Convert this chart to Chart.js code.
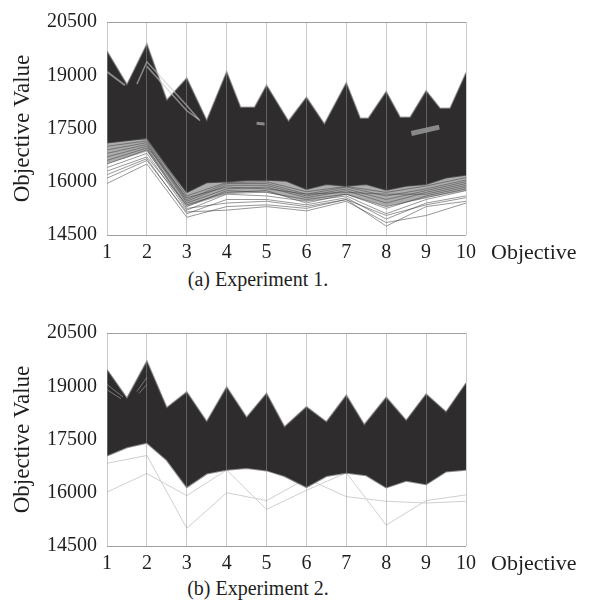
<!DOCTYPE html>
<html>
<head>
<meta charset="utf-8">
<script src="https://cdn.jsdelivr.net/npm/chart.js@4.4.1/dist/chart.umd.min.js"></script>
<style>
  body { margin: 0; background: #fff; width: 601px; height: 610px; position: relative; overflow: hidden;
         font-family: 'Liberation Serif', 'Times New Roman', serif; color: #1e1e1e; }
  .panel { position: absolute; left: 0; width: 601px; height: 262px; }
  .cap { position: absolute; left: 0; width: 516px; text-align: center; font-size: 20px; line-height: 20px; white-space: nowrap; }
  .axis-name { position: absolute; left: 491px; font-size: 22px; line-height: 22px; }
</style>
</head>
<body>
<div class="panel" style="top:0"><canvas id="exp1" width="601" height="262"></canvas></div>
<div class="axis-name" style="top:241px">Objective</div>
<div class="cap" style="top:269px">(a) Experiment 1.</div>

<div class="panel" style="top:311px"><canvas id="exp2" width="601" height="262"></canvas></div>
<div class="axis-name" style="top:552px">Objective</div>
<div class="cap" style="top:578px">(b) Experiment 2.</div>

<script>
// Parallel coordinates of objective values, two experiments
const objectives = [1, 2, 3, 4, 5, 6, 7, 8, 9, 10];
const yTicks = [14500, 16000, 17500, 19000, 20500];

// Experiment 1: outline of the dense band (upper edge and solid lower edge)
const e1TopX = [1, 1.5, 2, 2.5, 3, 3.5, 4, 4.35, 4.7, 5, 5.55, 6, 6.45, 7, 7.35, 7.55, 8, 8.35, 8.6, 9, 9.35, 9.6, 10];
const e1TopY = [19680, 18740, 19880, 18300, 18920, 17730, 19100, 18100, 18100, 18720, 17710, 18380, 17630, 18790, 17790, 17790, 18540, 17820, 17820, 18560, 18070, 18070, 19070];
const e1BaseX = [1, 1.5, 2, 2.5, 3, 3.5, 4, 4.5, 5, 5.5, 6, 6.5, 7, 7.5, 8, 8.5, 9, 9.5, 10];
const e1BaseY = [17100, 17160, 17230, 16450, 15700, 15980, 16000, 16040, 16050, 16020, 15790, 15930, 15880, 15930, 15770, 15880, 15930, 16110, 16190];
// lower edge of the grey haze under the band
const e1Haze = [16500, 16850, 15300, 15650, 15700, 15450, 15650, 15300, 15550, 15750];

// Experiment 1: sparser solutions under the band (one value per objective)
const e1Spread = [
  [17150, 17200, 15600, 15980, 16000, 15720, 15870, 15700, 15880, 16120],
  [17000, 17150, 15500, 15950, 15950, 15650, 15850, 15600, 15800, 16050],
  [16900, 17100, 15450, 15900, 15900, 15600, 15800, 15500, 15750, 16000],
  [16800, 17050, 15400, 15800, 15850, 15550, 15750, 15400, 15700, 15950],
  [16700, 17000, 15550, 15850, 15800, 15650, 15700, 15650, 15650, 15900],
  [16600, 16950, 15300, 15750, 15700, 15500, 15650, 15250, 15600, 15850],
  [16500, 16900, 15250, 15400, 15450, 15300, 15500, 15050, 15350, 15550],
  [16400, 16800, 15200, 15650, 15600, 15450, 15600, 15100, 15500, 15750],
  [16300, 16700, 15350, 15700, 15750, 15400, 15650, 15300, 15550, 15800],
  [16200, 16650, 15100, 15500, 15500, 15350, 15550, 14950, 15400, 15600],
  [16100, 16600, 15150, 15200, 15300, 15180, 15450, 14850, 15050, 15400],
  [15950, 16500, 15000, 15300, 15350, 15250, 15500, 14750, 15300, 15450]
];

// Experiment 1: pale streaks inside the band
const e1StreakX = [[1, 1.45], [1.75, 2, 3, 3.33], [2, 3, 3.3], [4.75, 4.95], [8.63, 9.33]];
const e1StreakY = [[19100, 18720], [18750, 19380, 18150, 17720], [19250, 18000, 17760], [17650, 17630], [17360, 17540]];
const e1StreakW = [2, 1.5, 1.5, 3, 5];

// Experiment 2: outline of the dense band
const e2TopX = [1, 1.5, 2, 2.5, 3, 3.5, 4, 4.5, 5, 5.45, 6, 6.5, 7, 7.45, 8, 8.5, 9, 9.5, 10];
const e2TopY = [19470, 18670, 19710, 18400, 18840, 18010, 18980, 18130, 18800, 17860, 18420, 18000, 18750, 17920, 18690, 18040, 18780, 18280, 19090];
const e2BaseX = [1, 1.5, 2, 2.5, 3, 3.5, 4, 4.5, 5, 5.45, 6, 6.5, 7, 7.5, 8, 8.5, 9, 9.5, 10];
const e2BaseY = [17050, 17280, 17410, 16920, 16160, 16540, 16650, 16700, 16630, 16470, 16160, 16470, 16560, 16490, 16150, 16340, 16240, 16600, 16650];

// Experiment 2: the few solutions that fall well below the band
const e2Outliers = [
  [16830, 17050, 15000, 16000, 15780, 16400, 15890, 15760, 15710, 15760],
  [16020, 16540, 15920, 16640, 15530, 16070, 16560, 15090, 15780, 15940]
];

// Experiment 2: pale streaks near the peaks
const e2StreakX = [[1, 1.4], [1, 1.35], [1.75, 2], [1.8, 2]];
const e2StreakY = [[19050, 18700], [18900, 18650], [18850, 19250], [18800, 19050]];

const FONT = "'Liberation Serif', 'Times New Roman', serif";
const INK = '#1e1e1e';
const BAND = '#2e2c2d';

const pts = (xs, ys) => xs.map((x, i) => ({ x, y: ys[i] }));
const onAxes = vals => objectives.map((o, i) => ({ x: o, y: vals[i] }));
const line = (data, color, width, extra) => Object.assign(
  { data, borderColor: color, borderWidth: width, pointRadius: 0, fill: false, tension: 0 }, extra || {});

function buildChart(id, sets) {
  return new Chart(document.getElementById(id), {
    type: 'line',
    data: { datasets: sets },
    options: {
      responsive: false,
      animation: false,
      events: [],
      layout: { padding: { top: 0, right: 135, left: 0, bottom: 0 } },
      plugins: { legend: { display: false }, tooltip: { enabled: false } },
      scales: {
        x: {
          type: 'linear', min: 1, max: 10,
          afterBuildTicks: a => { a.ticks = objectives.map(v => ({ value: v })); },
          afterFit: a => { a.height = 27; },
          grid: { color: 'rgba(150,150,150,0.5)', z: 1, drawTicks: false },
          border: { display: false },
          ticks: { padding: 6, color: INK, font: { family: FONT, size: 20 }, maxRotation: 0, autoSkip: false }
        },
        y: {
          type: 'linear', min: 14500, max: 20500,
          afterBuildTicks: a => { a.ticks = yTicks.map(v => ({ value: v })); },
          afterFit: a => { a.width = 107; },
          // only the top and bottom frame lines, no inner rules
          grid: { color: c => (c.tick && (c.tick.value === 20500 || c.tick.value === 14500) ? '#a0a0a0' : 'rgba(0,0,0,0)'), drawTicks: false },
          border: { display: false },
          ticks: { padding: 10, color: INK, font: { family: FONT, size: 20 }, callback: v => String(v) },
          title: { display: true, text: 'Objective Value', color: INK, font: { family: FONT, size: 23 }, padding: { top: 9, bottom: 0 } }
        }
      }
    }
  });
}

// Experiment 1
const exp1Sets = [];
e1StreakX.forEach((xs, i) => exp1Sets.push(line(pts(xs, e1StreakY[i]), 'rgba(200,200,200,0.6)', e1StreakW[i])));
exp1Sets.push(line(pts(e1TopX, e1TopY), 'rgba(110,110,110,0.6)', 1.5, { fill: '+1', backgroundColor: BAND }));
exp1Sets.push(line(pts(e1BaseX, e1BaseY), 'rgba(60,60,60,0.8)', 1.5, { fill: '+1', backgroundColor: 'rgba(70,70,70,0.45)' }));
exp1Sets.push(line(onAxes(e1Haze), 'rgba(0,0,0,0)', 0));
e1Spread.forEach(v => exp1Sets.push(line(onAxes(v), 'rgba(50,50,50,0.5)', 1)));
buildChart('exp1', exp1Sets);

// Experiment 2
const exp2Sets = [];
e2StreakX.forEach((xs, i) => exp2Sets.push(line(pts(xs, e2StreakY[i]), 'rgba(170,170,170,0.6)', 1)));
exp2Sets.push(line(pts(e2TopX, e2TopY), 'rgba(110,110,110,0.6)', 1.5, { fill: '+1', backgroundColor: BAND }));
exp2Sets.push(line(pts(e2BaseX, e2BaseY), 'rgba(90,90,90,0.7)', 2));
e2Outliers.forEach(v => exp2Sets.push(line(onAxes(v), '#cfcfcf', 1)));
buildChart('exp2', exp2Sets);
</script>
</body>
</html>
